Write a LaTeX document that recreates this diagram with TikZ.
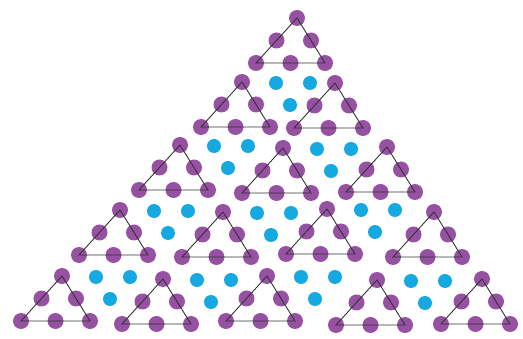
\documentclass[tikz,border=0pt]{standalone}
\definecolor{dotpurple}{RGB}{139,62,152}
\definecolor{dotblue}{RGB}{22,168,224}
\tikzset{
	pdot/.style={circle, fill=dotpurple, fill opacity=0.9, minimum size=16pt, inner sep=0pt},
	bdot/.style={circle, fill=dotblue, minimum size=14pt, inner sep=0pt},
	triline/.style={draw=black!80, line width=0.9pt},
}
\begin{document}
\begin{tikzpicture}[x=1pt, y=-1pt]
	\useasboundingbox (0,0) rectangle (523,339);
	% small triangles (apex positions, row by row)
	\foreach \ax/\ay [count=\i] in {297/18, 242/82, 335/83, 180/145, 283/148, 387/147, 120/210, 223/212, 327/209, 434/212, 62/276, 163/279, 267/276, 377/280, 482/279} {
		\node[pdot] (t\i-a) at (\ax,\ay) {};
		\node[pdot] (t\i-bl) at (\ax-41,\ay+45) {};
		\node[pdot] (t\i-br) at (\ax+28,\ay+45) {};
		\node[pdot] (t\i-ml) at (\ax-20.5,\ay+22.5) {};
		\node[pdot] (t\i-mr) at (\ax+14,\ay+22.5) {};
		\node[pdot] (t\i-mb) at (\ax-6.5,\ay+45) {};
		\draw[triline] (t\i-a.center) -- (t\i-bl.center) -- (t\i-br.center) -- cycle;
	}
	% blue groups between them
	\foreach \ax/\ay [count=\j] in {242/82, 180/145, 283/148, 120/210, 223/212, 327/209, 62/276, 163/279, 267/276, 377/280} {
		\node[bdot] (g\j-l) at (\ax+34,\ay+1) {};
		\node[bdot] (g\j-r) at (\ax+68,\ay+1) {};
		\node[bdot] (g\j-b) at (\ax+48,\ay+23) {};
	}
\end{tikzpicture}
\end{document}
